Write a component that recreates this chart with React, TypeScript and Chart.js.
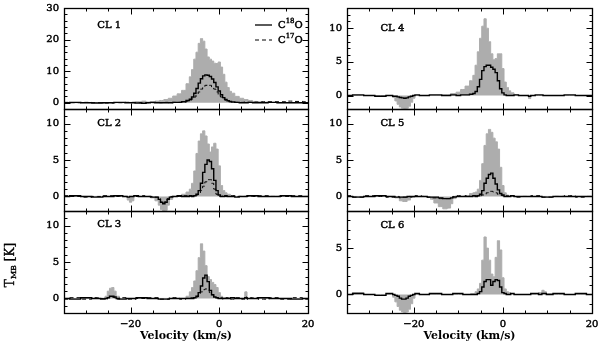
import React, { useEffect, useRef } from "react";
import { Chart, registerables } from "chart.js";

Chart.register(...registerables);

const SERIF = '"DejaVu Serif", "Liberation Serif", serif';
const GREY = "#adadad";

// ---------- axis ticks ----------
const xTickLabels = [-20, 0, 20];
const yTicks30 = [0, 10, 20, 30];
const yTicks12 = [0, 5, 10];
const yTicks9 = [0, 5];

// ---------- CL 1 ----------
const cl1Vel = [
  -35, -32.5, -30, -27.5, -25, -22.5, -20, -18, -17, -16,
  -15, -14, -13, -12, -11, -10, -9, -8, -7, -6.5,
  -6, -5.5, -5, -4.5, -4, -3.5, -3, -2.5, -2, -1.5,
  -1, -0.5, 0, 0.5, 1, 1.5, 2, 2.5, 3, 4,
  5, 6, 7, 8, 9, 10, 12, 14, 16, 18,
  20,
];
const cl1Grey = [
  0, 0, 0, 0, 0, 0, 0.1, 0.3, 0.5, 0.2,
  0.3, 0.5, 0.7, 1.0, 1.4, 2.1, 2.8, 3.9, 6.0, 8.2,
  10.5, 13.8, 16.0, 18.8, 20.3, 19.5, 17.0, 14.5, 13.8, 13.2,
  12.5, 12.4, 12.9, 11.3, 9.0, 6.5, 4.8, 3.6, 3.0, 2.0,
  1.4, 1.0, 0.7, 0.4, 0.3, 0.2, 0.1, 0, 0, 0,
  0,
];
const cl1C18O = [
  0, 0.1, 0, -0.1, 0, 0.1, 0, -0.1, -0.2, 0,
  0.1, 0, 0, 0, 0, 0.1, 0.1, 0.3, 0.7, 1.1,
  1.8, 3.0, 4.5, 6.2, 7.6, 8.5, 8.8, 8.7, 8.3, 7.5,
  6.4, 5.0, 3.7, 2.5, 1.6, 1.0, 0.6, 0.4, 0.2, 0.1,
  0, 0, 0.1, 0, 0, 0, 0.1, 0, 0, 0,
  0,
];
const cl1C17O = [
  0.1, 0, 0.1, 0, -0.1, 0, 0.1, 0, -0.1, 0,
  0, 0.1, 0, 0.1, 0, 0.1, 0.1, 0.2, 0.5, 0.8,
  1.2, 1.8, 2.5, 3.4, 4.3, 5.0, 5.5, 5.7, 5.5, 5.0,
  4.3, 3.4, 2.6, 1.8, 1.2, 0.8, 0.5, 0.3, 0.2, 0.1,
  0.1, 0.2, 0.1, 0.2, 0.2, 0.3, 0.3, 0.3, 0.5, 0.4,
  0.3,
];

// ---------- CL 2 ----------
const cl2Vel = [
  -35, -32.5, -30, -27.5, -25, -22.5, -21, -20.5, -20, -19.5,
  -19, -17.5, -16, -15, -14, -13.5, -13, -12.5, -12, -11.5,
  -11, -10, -9, -8, -7, -6.5, -6, -5.5, -5, -4.5,
  -4, -3.5, -3, -2.5, -2, -1.5, -1, -0.5, 0, 0.5,
  1, 1.5, 2, 3, 4, 5, 7.5, 10, 12.5, 15,
  17.5, 20,
];
const cl2Grey = [
  0, 0, 0, 0, 0, 0, 0, -0.5, -0.8, -0.6,
  0, 0, 0, -0.2, -0.6, -1.2, -1.8, -2.0, -1.9, -1.2,
  -0.4, 0, 0, 0.3, 0.6, 1.0, 1.8, 3.5, 5.9, 7.6,
  8.6, 9.0, 8.3, 7.2, 6.1, 6.8, 7.3, 6.5, 4.2, 1.5,
  0.8, 0.5, 0.3, 0.1, 0, 0, 0, 0, 0, 0,
  0, 0,
];
const cl2C18O = [
  0, 0.1, 0, -0.1, 0, 0.1, 0, -0.1, 0, 0,
  0.1, 0, 0, -0.1, -0.1, -0.4, -0.8, -1.0, -0.8, -0.4,
  -0.1, 0, 0.1, 0, 0, 0.1, 0, 0.1, 0.3, 0.8,
  1.8, 3.3, 4.4, 5.0, 4.8, 3.8, 2.2, 0.8, 0.2, 0,
  0, 0.1, 0, 0, -0.1, 0, 0.1, 0, 0, 0.1,
  0, 0,
];
const cl2C17O = [
  0.1, 0, -0.1, 0, 0.1, 0, 0, -0.1, 0, 0,
  0, 0.1, 0, 0, -0.1, -0.3, -0.7, -0.9, -0.7, -0.3,
  0, 0, 0, 0.1, 0.1, 0, 0.1, 0.1, 0.2, 0.4,
  0.8, 1.4, 2.0, 2.3, 2.3, 1.8, 1.0, 0.3, 0, 0,
  0.1, 0, 0, 0.1, 0, 0, 0, 0.1, 0, 0,
  0.1, 0,
];

// ---------- CL 3 ----------
const cl3Vel = [
  -35, -32.5, -30, -27.5, -26, -25.5, -25, -24.5, -24, -23.5,
  -23, -22, -20, -17.5, -15, -12.5, -10, -8, -7, -6.5,
  -6, -5.5, -5, -4.5, -4, -3.5, -3, -2.5, -2, -1.5,
  -1, -0.5, 0, 0.5, 1, 2, 3, 4, 5.5, 6,
  6.5, 7.5, 10, 12.5, 15, 17.5, 20,
];
const cl3Grey = [
  0, 0, 0, 0, 0, 0.3, 1.0, 1.4, 1.5, 1.0,
  0.3, 0, 0, 0, 0, 0, 0, 0, 0.3, 0.9,
  1.5, 2.4, 3.8, 5.6, 7.5, 6.5, 4.5, 3.0, 2.6, 2.2,
  1.9, 1.5, 0.8, 0.3, 0.1, 0, 0, 0, 0, 0.9,
  0, 0, 0, 0, 0, 0, 0,
];
const cl3C18O = [
  0, -0.1, 0.1, 0, -0.1, 0, 0.1, 0.3, 0.3, 0.2,
  0, -0.1, 0, 0.1, 0, -0.1, 0, 0, 0, 0,
  0, 0.1, 0.3, 0.8, 1.7, 2.8, 3.2, 2.3, 1.1, 0.5,
  0.2, 0.1, 0, 0, 0, 0, 0.1, 0, 0, 0.1,
  0, 0, 0.1, 0, 0, -0.1, 0,
];
const cl3C17O = [
  -0.1, 0.1, -0.1, 0.1, 0, -0.1, 0.1, 0.2, 0.2, 0.1,
  -0.1, 0.1, -0.1, 0, 0.1, -0.1, 0.1, -0.1, 0, 0.1,
  0.1, 0.1, 0.2, 0.5, 0.9, 1.2, 1.3, 1.2, 0.8, 0.5,
  0.2, 0.1, 0, 0.1, -0.1, 0.1, -0.1, 0.1, -0.1, 0.2,
  -0.1, 0.1, -0.1, 0.1, -0.1, 0.1, -0.1,
];

// ---------- CL 4 ----------
const cl4Vel = [
  -35, -32.5, -30, -27.5, -25, -24.5, -24, -23.5, -23, -22.5,
  -22, -21.5, -21, -20.5, -20, -19.5, -18, -15, -12.5, -11,
  -10, -9, -8, -7, -6.5, -6, -5.5, -5, -4.5, -4,
  -3.5, -3, -2.5, -2, -1.5, -1, -0.5, 0, 0.5, 1,
  1.5, 2, 3, 4, 5.5, 6, 6.5, 8, 10, 12.5,
  15, 17.5, 20,
];
const cl4Grey = [
  0, 0, 0, 0, 0, -0.3, -0.8, -1.3, -1.7, -1.9,
  -2.0, -1.9, -1.6, -1.0, -0.4, 0, 0, 0, 0.1, 0.3,
  0.5, 0.9, 1.4, 2.2, 3.0, 4.5, 6.5, 8.5, 10.3, 11.4,
  10.0, 8.0, 6.2, 5.3, 5.5, 6.2, 6.2, 4.0, 2.0, 1.2,
  0.7, 0.4, 0.1, 0, 0, -0.45, 0, 0, 0, 0,
  0, 0, 0,
];
const cl4C18O = [
  0, 0.1, 0, -0.1, 0, -0.1, -0.1, -0.2, -0.3, -0.35,
  -0.4, -0.35, -0.2, -0.1, 0, 0.1, 0, 0.1, 0, 0.1,
  0, 0.1, 0.1, 0.2, 0.3, 0.6, 1.3, 2.4, 3.7, 4.3,
  4.5, 4.5, 4.2, 3.9, 3.4, 2.2, 1.0, 0.4, 0.1, 0,
  0, 0, 0.1, 0, 0, -0.1, 0, 0.1, 0, 0,
  0.1, 0, 0,
];

// ---------- CL 5 ----------
const cl5Vel = [
  -35, -32.5, -30, -27.5, -25, -23.5, -23, -22, -21, -20.5,
  -19, -17.5, -16.5, -16, -15, -14, -13, -12, -11.5, -11,
  -10, -9, -8, -7, -6.5, -6, -5.5, -5, -4.5, -4,
  -3.5, -3, -2.5, -2, -1.5, -1, -0.5, 0, 0.5, 1,
  1.5, 2, 3, 5, 7.5, 10, 12.5, 15, 17.5, 20,
];
const cl5Grey = [
  0, 0, 0, 0, 0, -0.2, -0.6, -0.7, -0.5, -0.1,
  0, 0, -0.1, -0.4, -0.9, -1.4, -1.7, -1.6, -1.0, -0.3,
  0, 0, 0.1, 0.4, 0.5, 0.6, 1.0, 2.2, 4.5, 7.0,
  8.6, 9.2, 8.8, 8.0, 7.5, 6.5, 4.0, 1.5, 0.5, 0.2,
  0.1, 0, 0, 0, 0, 0, 0, 0, 0, 0,
];
const cl5C18O = [
  0, -0.1, 0, 0.1, 0, -0.1, -0.1, -0.1, 0, 0,
  0, 0, -0.1, -0.1, -0.1, -0.2, -0.3, -0.3, -0.2, -0.1,
  0, 0, 0, 0, 0.1, 0, 0.1, 0.3, 0.8, 1.8,
  2.5, 3.0, 3.2, 2.5, 1.7, 0.9, 0.4, 0.2, 0, 0,
  0, 0.1, 0, 0, 0, -0.1, 0, 0, 0, 0,
];
const cl5C17O = [
  0.1, -0.1, 0.1, 0, -0.1, 0, -0.2, -0.1, 0, -0.1,
  0.1, 0, -0.1, -0.2, -0.2, -0.3, -0.3, -0.3, -0.2, 0,
  0.1, 0, 0.1, 0, 0, 0.1, 0, 0.1, 0.2, 0.3,
  0.5, 0.7, 0.7, 0.6, 0.5, 0.3, 0.2, 0.1, 0, 0.1,
  0, 0.1, -0.1, 0, 0.1, -0.1, 0, 0.1, -0.1, 0,
];

// ---------- CL 6 ----------
const cl6Vel = [
  -35, -32.5, -30, -27.5, -25, -24.5, -24, -23.5, -23, -22.5,
  -22, -21.5, -21, -20.5, -20, -19.5, -18, -15, -12.5, -10,
  -8, -6.5, -6, -5.5, -5, -4.5, -4, -3.5, -3, -2.5,
  -2, -1.5, -1, -0.5, 0, 0.5, 1, 1.5, 2, 3,
  5, 7.5, 8.5, 9, 9.5, 10, 12.5, 15, 17.5, 20,
];
const cl6Grey = [
  0, 0.2, 0, 0, 0, -0.3, -0.8, -1.3, -1.7, -1.9,
  -2.0, -1.9, -1.6, -1.0, -0.4, 0, 0, 0, 0, 0,
  0, 0.1, 0.3, 0.6, 1.2, 3.7, 6.2, 5.0, 3.7, 2.2,
  1.9, 4.0, 5.8, 4.8, 1.8, 0.6, 0.3, 0.2, 0.1, 0,
  0, 0, 0.2, 0.45, 0.3, 0.1, 0, 0, 0, 0,
];
const cl6C18O = [
  0, 0.1, 0, -0.1, 0.1, 0, -0.1, -0.2, -0.4, -0.5,
  -0.5, -0.4, -0.2, -0.1, 0, 0.1, 0, 0.1, 0, 0.1,
  0, 0, 0, 0.1, 0.3, 0.8, 1.4, 1.6, 1.6, 1.0,
  1.4, 1.6, 1.5, 0.8, 0.2, 0.1, 0, 0, 0.1, 0,
  0, 0.1, 0, 0.1, 0.1, 0, 0.1, 0, 0.1, 0,
];

// ---------- panel layout ----------
type PanelCfg = {
  name: string;
  vel: number[];
  grey: number[];
  c18: number[];
  c17: number[] | null;
  yMin: number;
  yMax: number;
  yTicks: number[];
  yMinor: number;
  labelY: number;
  left: number;
  top: number;
  width: number;
  height: number;
  bottom: boolean;
  legend: boolean;
};

const LEFT_COL = 64;
const RIGHT_COL = 347;
const LEFT_W = 244;
const RIGHT_W = 245;
const ROW_TOPS = [8, 109, 211];
const ROW_H = [101, 102, 102];

const panels: PanelCfg[] = [
  { name: "CL 1", vel: cl1Vel, grey: cl1Grey, c18: cl1C18O, c17: cl1C17O, yMin: -2, yMax: 30, yTicks: yTicks30, yMinor: 2, labelY: 24.5, left: LEFT_COL, top: ROW_TOPS[0], width: LEFT_W, height: ROW_H[0], bottom: false, legend: true },
  { name: "CL 2", vel: cl2Vel, grey: cl2Grey, c18: cl2C18O, c17: cl2C17O, yMin: -2, yMax: 12, yTicks: yTicks12, yMinor: 1, labelY: 10, left: LEFT_COL, top: ROW_TOPS[1], width: LEFT_W, height: ROW_H[1], bottom: false, legend: false },
  { name: "CL 3", vel: cl3Vel, grey: cl3Grey, c18: cl3C18O, c17: cl3C17O, yMin: -2, yMax: 12, yTicks: yTicks12, yMinor: 1, labelY: 10.2, left: LEFT_COL, top: ROW_TOPS[2], width: LEFT_W, height: ROW_H[2], bottom: true, legend: false },
  { name: "CL 4", vel: cl4Vel, grey: cl4Grey, c18: cl4C18O, c17: null, yMin: -2, yMax: 13, yTicks: yTicks12, yMinor: 1, labelY: 10, left: RIGHT_COL, top: ROW_TOPS[0], width: RIGHT_W, height: ROW_H[0], bottom: false, legend: false },
  { name: "CL 5", vel: cl5Vel, grey: cl5Grey, c18: cl5C18O, c17: cl5C17O, yMin: -2, yMax: 12, yTicks: yTicks12, yMinor: 1, labelY: 10, left: RIGHT_COL, top: ROW_TOPS[1], width: RIGHT_W, height: ROW_H[1], bottom: false, legend: false },
  { name: "CL 6", vel: cl6Vel, grey: cl6Grey, c18: cl6C18O, c17: null, yMin: -2, yMax: 9, yTicks: yTicks9, yMinor: 1, labelY: 7.5, left: RIGHT_COL, top: ROW_TOPS[2], width: RIGHT_W, height: ROW_H[2], bottom: true, legend: false },
];

const X_MIN = -35;
const X_MAX = 20;
const Y_AXIS_W = 44;
const PAD = 10;
const X_AXIS_H = 30;

const minusify = (v: number | string) => String(v).replace("-", "\u2212");

function framePlugin(p: PanelCfg) {
  return {
    id: "frame" + p.name.replace(" ", ""),
    afterDatasetsDraw(chart: any) {
      const { ctx, chartArea: a, scales } = chart;
      const xs = scales.x;
      const ys = scales.y;
      ctx.save();
      ctx.strokeStyle = "#000";
      ctx.lineWidth = 1.3;
      ctx.strokeRect(a.left + 0.5, a.top + 0.5, a.right - a.left, a.bottom - a.top);
      ctx.lineWidth = 1;
      const seg = (x1: number, y1: number, x2: number, y2: number) => {
        ctx.beginPath();
        ctx.moveTo(x1, y1);
        ctx.lineTo(x2, y2);
        ctx.stroke();
      };
      // x ticks: minor every 5, major every 20
      for (let k = -7; k <= 4; k++) {
        const v = k * 5;
        const len = v % 20 === 0 ? 6 : 3;
        const px = Math.round(xs.getPixelForValue(v)) + 0.5;
        seg(px, a.bottom + 0.5, px, a.bottom + 0.5 - len);
        seg(px, a.top + 0.5, px, a.top + 0.5 + len);
      }
      // y ticks
      const kMin = Math.ceil(p.yMin / p.yMinor);
      const kMax = Math.floor(p.yMax / p.yMinor);
      for (let k = kMin; k <= kMax; k++) {
        const v = k * p.yMinor;
        const len = p.yTicks.includes(v) ? 6 : 3;
        const py = Math.round(ys.getPixelForValue(v)) + 0.5;
        seg(a.left + 0.5, py, a.left + 0.5 + len, py);
        seg(a.right + 0.5, py, a.right + 0.5 - len, py);
      }
      // text helper with light stroke (heavier look)
      const txt = (s: string, x: number, y: number, size: number) => {
        ctx.font = `${size}px ${SERIF}`;
        ctx.lineWidth = 0.45;
        ctx.strokeText(s, x, y);
        ctx.fillText(s, x, y);
        return ctx.measureText(s).width;
      };
      ctx.fillStyle = "#000";
      ctx.strokeStyle = "#000";
      ctx.textBaseline = "middle";
      ctx.textAlign = "left";
      txt(p.name, xs.getPixelForValue(-27.5), ys.getPixelForValue(p.labelY), 10);
      // legend
      if (p.legend) {
        const rows = [
          { y: a.top + 17, sup: "18", dash: [] as number[] },
          { y: a.top + 32, sup: "17", dash: [4, 3] },
        ];
        rows.forEach((r) => {
          ctx.setLineDash(r.dash);
          ctx.lineWidth = r.dash.length ? 1 : 1.3;
          seg(a.right - 53, r.y, a.right - 36, r.y);
          ctx.setLineDash([]);
          let x = a.right - 30;
          x += txt("C", x, r.y, 10);
          x += txt(r.sup, x, r.y - 4, 7);
          txt("O", x, r.y, 10);
        });
      }
      ctx.restore();
    },
  };
}

function Panel({ p }: { p: PanelCfg }) {
  const ref = useRef<HTMLCanvasElement>(null);
  const cw = p.width + Y_AXIS_W + PAD;
  const ch = p.height + PAD + (p.bottom ? X_AXIS_H : PAD);

  useEffect(() => {
    const pts = (vals: number[]) => p.vel.map((v, i) => ({ x: v, y: vals[i] }));
    const datasets: any[] = [
      {
        label: "C18O",
        data: pts(p.c18),
        borderColor: "#000",
        borderWidth: 1.4,
        stepped: "middle",
        pointRadius: 0,
        fill: false,
        clip: 0,
      },
    ];
    if (p.c17) {
      datasets.push({
        label: "C17O",
        data: pts(p.c17),
        borderColor: "#000",
        borderWidth: 1,
        borderDash: [4, 3],
        stepped: "middle",
        pointRadius: 0,
        fill: false,
        clip: 0,
      });
    }
    datasets.push({
      label: "12CO",
      data: pts(p.grey),
      borderColor: GREY,
      backgroundColor: GREY,
      borderWidth: 1,
      stepped: "middle",
      pointRadius: 0,
      fill: "origin",
      clip: 0,
    });

    const tickFont = { family: SERIF, size: 10 };
    const chart = new Chart(ref.current as HTMLCanvasElement, {
      type: "line",
      data: { datasets },
      options: {
        animation: false,
        responsive: false,
        maintainAspectRatio: false,
        devicePixelRatio: 1,
        layout: { padding: { left: 0, right: PAD, top: PAD, bottom: p.bottom ? 0 : PAD } },
        plugins: { legend: { display: false }, tooltip: { enabled: false } },
        scales: {
          x: {
            type: "linear",
            min: X_MIN,
            max: X_MAX,
            display: p.bottom,
            grid: { display: false, drawTicks: false },
            border: { display: false },
            afterBuildTicks: (s: any) => {
              s.ticks = xTickLabels.map((v) => ({ value: v }));
            },
            afterFit: (s: any) => {
              s.height = p.bottom ? X_AXIS_H : 0;
              s.paddingLeft = 0;
              s.paddingRight = 0;
            },
            ticks: {
              padding: 5,
              color: "#000",
              maxRotation: 0,
              font: tickFont,
              textStrokeColor: "#000",
              textStrokeWidth: 0.45,
              callback: (v: any) => minusify(v),
            },
            title: {
              display: true,
              text: "Velocity (km/s)",
              color: "#000",
              font: { family: SERIF, size: 11, weight: "bold" },
              padding: { top: 0, bottom: 0 },
            },
          },
          y: {
            type: "linear",
            min: p.yMin,
            max: p.yMax,
            grid: { display: false, drawTicks: false },
            border: { display: false },
            afterBuildTicks: (s: any) => {
              s.ticks = p.yTicks.map((v) => ({ value: v }));
            },
            afterFit: (s: any) => {
              s.width = Y_AXIS_W;
              s.paddingTop = 0;
              s.paddingBottom = 0;
            },
            ticks: {
              padding: 5,
              color: "#000",
              font: tickFont,
              textStrokeColor: "#000",
              textStrokeWidth: 0.45,
              callback: (v: any) => minusify(v),
            },
          },
        },
      },
      plugins: [framePlugin(p)],
    } as any);
    return () => chart.destroy();
  }, [p]);

  return (
    <canvas
      ref={ref}
      width={cw}
      height={ch}
      style={{
        position: "absolute",
        left: p.left - Y_AXIS_W,
        top: p.top - PAD,
        width: cw,
        height: ch,
      }}
    />
  );
}

export default function App() {
  return (
    <div
      style={{
        position: "absolute",
        left: 0,
        top: 0,
        width: 600,
        height: 345,
        background: "#fff",
        overflow: "hidden",
      }}
    >
      {panels.map((p) => (
        <Panel key={p.name} p={p} />
      ))}
      <div
        style={{
          position: "absolute",
          left: 11,
          top: 265,
          transform: "translate(-50%, -50%) rotate(-90deg)",
          whiteSpace: "nowrap",
          fontFamily: SERIF,
          fontSize: 12,
          color: "#000",
          lineHeight: 1,
          WebkitTextStroke: "0.4px #000",
        }}
      >
        T<sub style={{ fontSize: 8, verticalAlign: "-2px" }}>MB</sub> [K]
      </div>
    </div>
  );
}
